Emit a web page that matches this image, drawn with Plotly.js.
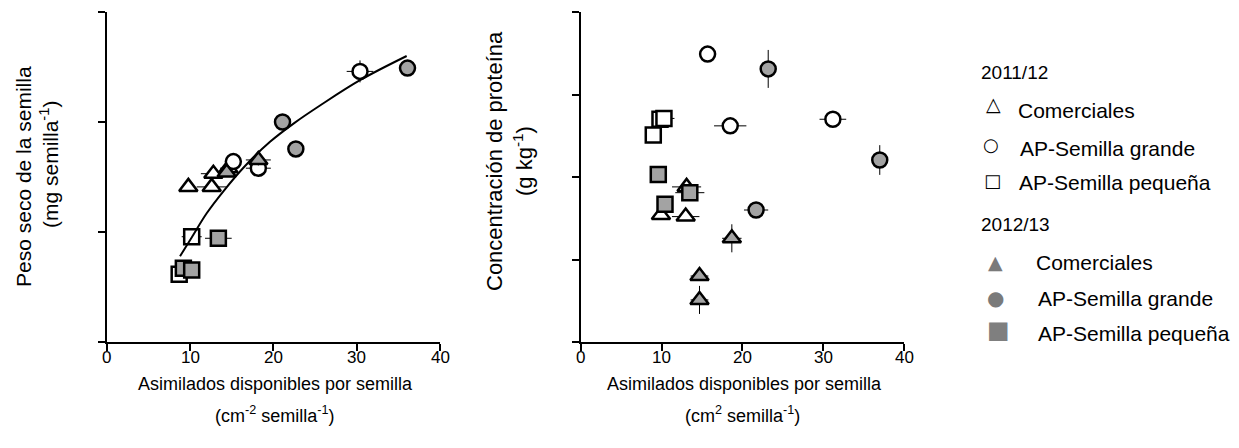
<!DOCTYPE html>
<html>
<head>
<meta charset="utf-8">
<script src="https://cdn.plot.ly/plotly-3.0.1.min.js"></script>
<style>html,body{margin:0;padding:0;background:#fff;}#chart{width:1239px;height:448px;}</style>
</head>
<body>
<div id="chart"></div>
<script>
// ---------- Panel A: Peso seco de la semilla ----------
const pesoCom11_x = [9.8, 12.8, 12.6, 14.6];
const pesoCom11_y = [1.41, 1.53, 1.41, 1.58];
const pesoCom11_ex = [0, 1.5, 1.8, 1.0];
const pesoCom11_ey = [0, 0, 0, 0];

const pesoGra11_x = [15.2, 18.2, 30.4];
const pesoGra11_y = [1.64, 1.58, 2.46];
const pesoGra11_ex = [0, 1.5, 1.6];
const pesoGra11_ey = [0, 0.08, 0.10];

const pesoPeq11_x = [10.2, 8.7];
const pesoPeq11_y = [0.957, 0.615];
const pesoPeq11_ex = [1.2, 0];
const pesoPeq11_ey = [0, 0];

const pesoCom12_x = [14.4, 18.2];
const pesoCom12_y = [1.54, 1.655];
const pesoCom12_ex = [1.0, 1.5];
const pesoCom12_ey = [0, 0.05];

const pesoGra12_x = [21.1, 22.7, 36.1];
const pesoGra12_y = [2.0, 1.755, 2.49];
const pesoGra12_ex = [1.0, 0.8, 0];
const pesoGra12_ey = [0, 0, 0];

const pesoPeq12_x = [13.4, 9.2, 10.2];
const pesoPeq12_y = [0.943, 0.67, 0.655];
const pesoPeq12_ex = [1.6, 0, 0];
const pesoPeq12_ey = [0, 0, 0];

// fitted curve
const curva_x = [8.8, 10.2, 12, 14, 16.6, 19.6, 22.5, 25.6, 30.4, 36.0];
const curva_y = [0.78, 0.95, 1.17, 1.37, 1.60, 1.82, 1.99, 2.15, 2.38, 2.60];

// ---------- Panel B: Concentración de proteína ----------
const protCom11_x = [13.1, 9.93, 12.99];
const protCom11_y = [1.88, 1.54, 1.52];
const protCom11_ex = [1.8, 0, 1.7];
const protCom11_ey = [0, 0, 0];

const protGra11_x = [15.7, 18.5, 31.2];
const protGra11_y = [3.49, 2.62, 2.70];
const protGra11_ex = [0, 2.0, 1.65];
const protGra11_ey = [0, 0, 0];

const protPeq11_x = [8.98, 9.81, 10.3];
const protPeq11_y = [2.51, 2.70, 2.71];
const protPeq11_ex = [0, 0, 1.3];
const protPeq11_ey = [0, 0, 0];

const protCom12_x = [18.7, 14.7, 14.7];
const protCom12_y = [1.257, 0.80, 0.51];
const protCom12_ex = [1.2, 1.1, 1.1];
const protCom12_ey = [0.17, 0.06, 0.17];

const protGra12_x = [23.2, 37.0, 21.7];
const protGra12_y = [3.31, 2.206, 1.60];
const protGra12_ex = [1.0, 0, 1.5];
const protGra12_ey = [0.23, 0.18, 0];

const protPeq12_x = [9.6, 10.43, 13.5];
const protPeq12_y = [2.03, 1.67, 1.81];
const protPeq12_ex = [0, 0, 1.8];
const protPeq12_ey = [0, 0.05, 0.1];

const xTicks = [0, 10, 20, 30, 40];
const xTickText = ['0', '10', '20', '30', '40'];

const legendNames = ['Comerciales', 'AP-Semilla grande', 'AP-Semilla pequeña'];
const groupTitles = ['2011/12', '2012/13'];
const legendSymbols11 = ['△', '○', '□'];
const legendSymbols12 = ['▲', '●', '■'];

const GRAY = '#a3a3a3';
const FONT = 'Liberation Sans, Arial, sans-serif';
const SYMFONT = 'DejaVu Sans';

function series(x, y, ex, ey, symbol, fill, name, xa, ya) {
  return {
    type: 'scatter', mode: 'markers', x: x, y: y,
    xaxis: xa, yaxis: ya, name: name, showlegend: false,
    marker: {symbol: symbol, size: symbol === 'triangle-up' ? 16 : 15, color: fill, line: {color: '#000', width: 2.5}},
    error_x: {type: 'data', array: ex, visible: true, color: '#000', thickness: 1, width: 0},
    error_y: {type: 'data', array: ey, visible: true, color: '#000', thickness: 1, width: 0},
    cliponaxis: false
  };
}

const data = [
  series(pesoCom11_x, pesoCom11_y, pesoCom11_ex, pesoCom11_ey, 'triangle-up', '#fff', legendNames[0], 'x', 'y'),
  series(pesoGra11_x, pesoGra11_y, pesoGra11_ex, pesoGra11_ey, 'circle', '#fff', legendNames[1], 'x', 'y'),
  series(pesoPeq11_x, pesoPeq11_y, pesoPeq11_ex, pesoPeq11_ey, 'square', '#fff', legendNames[2], 'x', 'y'),
  series(pesoCom12_x, pesoCom12_y, pesoCom12_ex, pesoCom12_ey, 'triangle-up', GRAY, legendNames[0], 'x', 'y'),
  series(pesoGra12_x, pesoGra12_y, pesoGra12_ex, pesoGra12_ey, 'circle', GRAY, legendNames[1], 'x', 'y'),
  series(pesoPeq12_x, pesoPeq12_y, pesoPeq12_ex, pesoPeq12_ey, 'square', GRAY, legendNames[2], 'x', 'y'),
  {type: 'scatter', mode: 'lines', x: curva_x, y: curva_y, xaxis: 'x', yaxis: 'y', showlegend: false,
   line: {color: '#000', width: 2, shape: 'spline', smoothing: 1}, hoverinfo: 'skip'},
  series(protCom11_x, protCom11_y, protCom11_ex, protCom11_ey, 'triangle-up', '#fff', legendNames[0], 'x2', 'y2'),
  series(protGra11_x, protGra11_y, protGra11_ex, protGra11_ey, 'circle', '#fff', legendNames[1], 'x2', 'y2'),
  series(protPeq11_x, protPeq11_y, protPeq11_ex, protPeq11_ey, 'square', '#fff', legendNames[2], 'x2', 'y2'),
  series(protCom12_x, protCom12_y, protCom12_ex, protCom12_ey, 'triangle-up', GRAY, legendNames[0], 'x2', 'y2'),
  series(protGra12_x, protGra12_y, protGra12_ex, protGra12_ey, 'circle', GRAY, legendNames[1], 'x2', 'y2'),
  series(protPeq12_x, protPeq12_y, protPeq12_ex, protPeq12_ey, 'square', GRAY, legendNames[2], 'x2', 'y2')
];

const W = 1239, H = 448;
const px = v => v / W;
const py = v => (H - v) / H;

const xBase = {
  range: [0, 40], tickvals: xTicks, ticks: 'outside', ticklen: 7, tickwidth: 2,
  tickcolor: '#000', showline: true, linewidth: 2, linecolor: '#000', showgrid: false, zeroline: false,
  showticklabels: false, fixedrange: true
};
const yBase = {
  ticks: 'outside', ticklen: 7, tickwidth: 2, tickcolor: '#000', showline: true, linewidth: 2,
  linecolor: '#000', showgrid: false, zeroline: false, showticklabels: false, dtick: 1, tick0: 0, fixedrange: true
};

function ann(text, x, y, size, opts) {
  return Object.assign({xref: 'paper', yref: 'paper', x: px(x), y: py(y), xanchor: 'center', yanchor: 'middle',
    showarrow: false, text: text, font: {size: size, family: FONT, color: '#000'}}, opts || {});
}
function sym(text, x, y, size, color) {
  return ann(text, x, y, size, {font: {size: size, family: SYMFONT, color: color}});
}

// x tick labels placed on each x axis through its own data scale
const tickAnns = [];
['x', 'x2'].forEach(function (xa) {
  xTicks.forEach(function (v, i) {
    tickAnns.push({xref: xa, yref: 'paper', x: v, y: py(357), xanchor: 'center', yanchor: 'middle',
      showarrow: false, text: xTickText[i], font: {size: 17, family: FONT, color: '#000'}});
  });
});

const annotations = tickAnns.concat([
  ann('Asimilados disponibles por semilla', 275, 384, 18),
  ann('(cm<sup>-2</sup> semilla<sup>-1</sup>)', 274, 414, 18),
  ann('Asimilados disponibles por semilla', 745, 384, 18),
  ann('(cm<sup>2</sup> semilla<sup>-1</sup>)', 742, 414, 18),
  ann('Peso seco de la semilla', 23, 177, 21, {textangle: -90}),
  ann('(mg semilla<sup>-1</sup>)', 49, 165, 21, {textangle: -90}),
  ann('Concentración de proteína', 494, 161, 22, {textangle: -90}),
  ann('(g kg<sup>-1</sup>)', 523, 161, 22, {textangle: -90}),
  // legend
  ann(groupTitles[0], 979, 72, 19, {xanchor: 'left'}),
  sym(legendSymbols11[0], 993, 104, 19, '#000'),
  ann(legendNames[0], 1016, 110, 21, {xanchor: 'left'}),
  sym(legendSymbols11[1], 991, 144, 18, '#000'),
  ann(legendNames[1], 1018, 148, 21, {xanchor: 'left'}),
  sym(legendSymbols11[2], 992, 181, 18, '#000'),
  ann(legendNames[2], 1017, 182, 21, {xanchor: 'left'}),
  ann(groupTitles[1], 979, 225, 19, {xanchor: 'left'}),
  sym(legendSymbols12[0], 995, 262, 19, '#7a7a7a'),
  ann(legendNames[0], 1034, 262, 21, {xanchor: 'left'}),
  sym(legendSymbols12[1], 995, 298, 20, '#7a7a7a'),
  ann(legendNames[1], 1036, 298, 21, {xanchor: 'left'}),
  sym(legendSymbols12[2], 998, 330, 24, '#7f7f7f'),
  ann(legendNames[2], 1036, 333, 21, {xanchor: 'left'})
]);

const layout = {
  width: W, height: H,
  margin: {l: 0, r: 0, t: 0, b: 0},
  paper_bgcolor: '#fff', plot_bgcolor: '#fff',
  font: {family: FONT, color: '#000'},
  xaxis: Object.assign({}, xBase, {domain: [px(106.7), px(440)], anchor: 'y'}),
  yaxis: Object.assign({}, yBase, {domain: [py(342), py(12)], range: [0, 3], anchor: 'x'}),
  xaxis2: Object.assign({}, xBase, {domain: [px(580.7), px(904)], anchor: 'y2'}),
  yaxis2: Object.assign({}, yBase, {domain: [py(342), py(12)], range: [0, 4], anchor: 'x2'}),
  showlegend: false,
  annotations: annotations
};

Plotly.newPlot('chart', data, layout, {displayModeBar: false, staticPlot: true});
</script>
</body>
</html>
